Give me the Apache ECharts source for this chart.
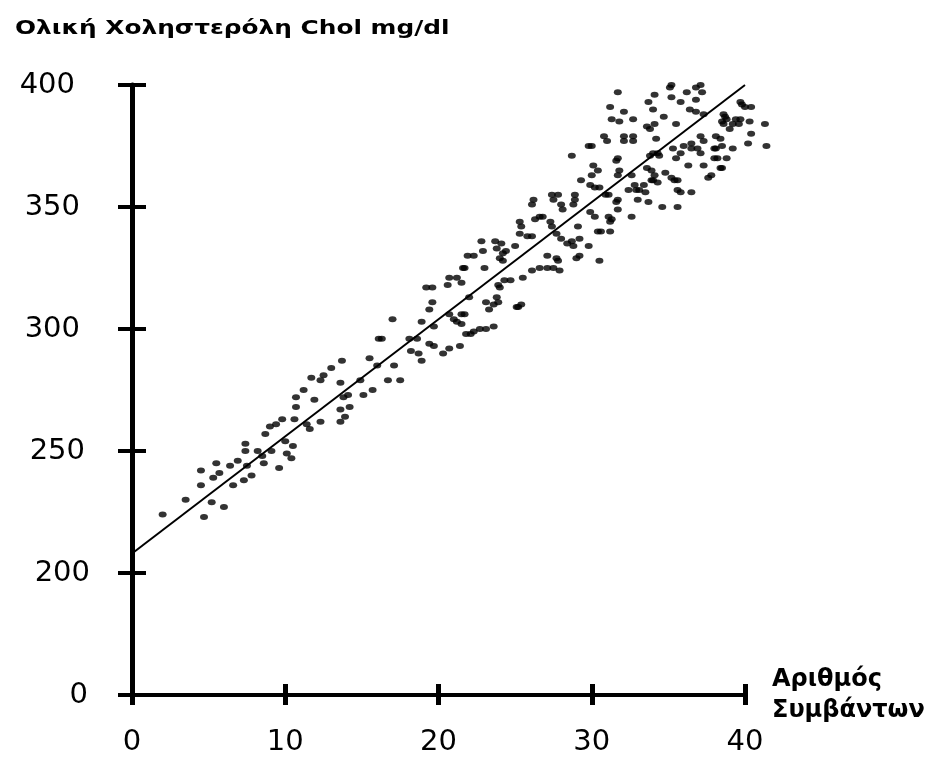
<!DOCTYPE html>
<html>
<head>
<meta charset="utf-8">
<script src="https://cdn.jsdelivr.net/npm/echarts@6/dist/echarts.min.js"></script>
<style>
  html, body { margin: 0; padding: 0; background: #fff; }
  #chart { width: 936px; height: 757px; }
</style>
</head>
<body>
<div id="chart"></div>
<script>
// Number of events (x) and total cholesterol in mg/dl (y), one entry per patient
const eventCount = [
  2.0, 3.5, 4.7, 4.5, 4.5, 5.2, 6.0, 5.3, 5.5, 5.7, 6.4, 6.9, 6.6, 7.3, 7.8, 7.5, 7.4, 7.4, 8.2, 8.5,
  8.6, 9.1, 9.6, 10.0, 10.1, 10.4, 10.5, 8.7, 9.0, 9.4, 9.8, 10.6, 10.7, 10.7, 11.2, 11.7, 12.3, 12.5, 11.9, 11.4,
  11.6, 12.3, 13.0, 13.7, 13.6, 13.8, 13.6, 13.6, 14.2, 13.9, 14.9, 15.1, 15.7, 15.5, 16.0, 16.1, 14.1,
  16.3, 17.0, 17.1, 16.7, 17.5, 18.1, 18.2, 18.7, 18.9, 18.6, 18.9, 19.4, 19.6, 19.2, 19.6, 19.7, 19.4, 19.7, 20.3, 20.7,
  21.4, 20.6, 20.7, 21.2, 21.5, 20.7, 21.0, 21.2, 21.5, 21.7, 21.6, 21.7, 21.9, 22.3, 22.0, 21.8, 22.1, 21.5, 22.8, 22.9,
  23.1, 23.3, 23.6, 23.8, 23.9, 23.0, 23.7, 23.8, 24.1, 24.2, 24.4, 24.0, 24.2, 24.0, 24.3, 24.7, 23.9, 25.0, 25.3, 25.4,
  25.2, 25.5, 25.3, 25.8, 26.1, 26.1, 26.6, 27.1, 27.5, 26.3, 26.6, 26.8, 27.3, 27.4, 26.1, 26.2, 27.1, 27.7, 27.8, 27.9,
  27.5, 28.0, 28.1, 28.8, 28.9, 27.7, 28.0, 28.4, 28.7, 28.8, 29.1, 29.2, 29.0, 29.8, 29.9, 30.2, 30.5, 30.4, 30.6, 31.1,
  31.2, 31.3, 22.3, 22.7, 23.1, 23.6, 25.1, 25.4, 27.4, 27.8,
  28.9, 28.7, 29.2, 29.3, 30.0, 30.1, 30.4, 29.8, 30.0, 29.9, 30.2, 30.5, 30.8, 31.0, 30.9, 31.1, 31.2, 31.7, 31.7, 31.6,
  31.8, 31.7, 31.2, 31.3, 31.8, 32.1, 32.1, 32.7, 32.7, 32.6, 32.8, 33.0, 32.4, 32.9, 32.6, 31.7, 31.6, 31.7, 32.7, 33.7,
  34.0, 33.6, 33.8, 34.1, 34.1, 34.2, 33.8, 34.0, 34.3, 34.4, 33.6, 33.9, 34.1, 33.1, 33.4, 33.5, 33.9, 34.0, 34.3, 33.7,
  34.6, 35.2, 35.1, 35.2, 34.7, 35.5, 35.8, 35.8, 35.5, 35.3, 36.0, 34.8, 35.2, 35.4, 35.6, 35.6, 35.8, 36.5, 35.6, 36.2,
  36.8, 36.8, 37.1, 37.2, 36.4, 36.8, 36.5, 36.5, 37.1, 37.3, 36.9, 37.1, 36.3, 37.3, 37.6, 37.8, 37.3, 38.0, 38.2, 38.0,
  38.1, 38.5, 38.1, 38.4, 38.6, 38.7, 38.8, 38.5, 38.6, 39.0, 38.8, 39.2, 39.4, 39.7, 39.6, 39.2, 39.7, 39.8, 40.0, 40.4,
  40.3, 40.4, 40.2, 41.3, 41.4, 38.4, 38.5, 32.1
];
const cholesterol = [
  224, 230, 223, 236, 242, 229, 227, 239, 245, 241, 244, 246, 236, 238, 240, 244, 253, 250, 250, 248,
  245, 250, 243, 254, 249, 247, 252, 257, 260, 261, 263, 263, 268, 272, 275, 280, 279, 281, 271, 261,
  259, 262, 284, 287, 278, 272, 267, 262, 268, 264, 279, 273, 275, 288, 285, 296, 273,
  296, 304, 285, 279, 279, 296, 291, 290, 287, 296, 303, 308, 311, 317, 317, 301, 294, 293, 290, 292,
  293, 318, 321, 321, 319, 306, 304, 303, 306, 306, 325, 325, 330, 330, 313, 298, 298, 302, 336, 332,
  311, 308, 310, 313, 311, 325, 336, 333, 335, 331, 332, 329, 328, 317, 320, 320, 318, 334, 344, 342,
  309, 321, 339, 338, 338, 324, 325, 325, 325, 345, 346, 346, 344, 342, 351, 353, 330, 329, 328, 324,
  353, 351, 349, 351, 353, 339, 337, 335, 336, 334, 342, 330, 329, 334, 348, 346, 328, 340, 340, 346,
  344, 345, 299, 300, 300, 301, 309, 310, 355, 355,
  355, 371, 337, 361, 363, 367, 365, 375, 375, 359, 358, 358, 379, 377, 355, 355, 340, 397, 370, 369,
  365, 363, 391, 386, 385, 379, 377, 379, 377, 363, 359, 353, 357, 357, 346, 353, 352, 349, 386, 393,
  390, 383, 382, 384, 396, 378, 371, 372, 372, 371, 366, 365, 363, 357, 359, 356, 361, 361, 360, 352,
  350, 400, 399, 395, 387, 384, 393, 372, 370, 374, 375, 364, 362, 361, 361, 357, 356, 356, 350, 397,
  394, 399, 400, 397, 390, 389, 376, 374, 379, 377, 374, 372, 367, 388, 362, 363, 367, 370, 370, 374,
  374, 375, 379, 378, 388, 387, 386, 385, 384, 382, 370, 374, 386, 386, 384, 384, 393, 392, 391, 391,
  385, 380, 376, 384, 375, 366, 366, 389
];

// Fitted regression line, end points
const fitX = [0, 40];
const fitY = [208, 400];

// Axis ticks; the value scale starts at 150 so the empty stretch down to zero
// is drawn compressed, and its lowest tick carries the label 0
const xTicks = [0, 10, 20, 30, 40];
const yTickValues = [150, 200, 250, 300, 350, 400];
const yTickLabels = ['0', '200', '250', '300', '350', '400'];

const points = eventCount.map((x, i) => [x, cholesterol[i]]);
const fitLine = fitX.map((x, i) => [x, fitY[i]]);

const labelFont = { fontFamily: 'DejaVu Sans', fontSize: 29, color: '#000' };

// the hand-set y labels sit slightly staggered; each gets its own right inset
const yLabelRich = {
  l0:   { fontFamily: 'DejaVu Sans', fontSize: 29, color: '#000', padding: [0, 2, 0, 0] },
  l200: { fontFamily: 'DejaVu Sans', fontSize: 29, color: '#000', padding: [0, 0, 0, 0] },
  l250: { fontFamily: 'DejaVu Sans', fontSize: 29, color: '#000', padding: [0, 5, 0, 0] },
  l300: { fontFamily: 'DejaVu Sans', fontSize: 29, color: '#000', padding: [0, 10, 0, 0] },
  l350: { fontFamily: 'DejaVu Sans', fontSize: 29, color: '#000', padding: [0, 10, 0, 0] },
  l400: { fontFamily: 'DejaVu Sans', fontSize: 29, color: '#000', padding: [0, 15, 0, 0] }
};

const chart = echarts.init(document.getElementById('chart'), null, { renderer: 'canvas' });

const xBase = {
  type: 'value', position: 'bottom', min: xTicks[0], max: xTicks[xTicks.length - 1], interval: 10,
  splitLine: { show: false }
};
const yBase = {
  type: 'value', position: 'left', min: yTickValues[0], max: yTickValues[yTickValues.length - 1], interval: 50,
  splitLine: { show: false }
};

chart.setOption({
  animation: false,
  backgroundColor: '#fff',
  graphic: [
    {
      type: 'text',
      left: 15, top: 19,
      scaleX: 1.24,
      originX: 0, originY: 0,
      style: {
        text: 'Ολική Χοληστερόλη Chol mg/dl',
        font: 'bold 20px "DejaVu Sans"',
        fill: '#000'
      }
    }
  ],
  grid: { left: 132, right: 191, top: 85, bottom: 58, containLabel: false },
  xAxis: [
    Object.assign({}, xBase, {
      axisLine: { show: true, onZero: false, lineStyle: { color: '#000', width: 4 } },
      axisTick: { show: true, inside: false, length: 10, lineStyle: { color: '#000', width: 5 } },
      axisLabel: Object.assign({ margin: 33 }, labelFont),
      name: 'Αριθμός\nΣυμβάντων',
      nameLocation: 'end',
      nameGap: 27,
      nameTextStyle: {
        fontFamily: 'DejaVu Sans', fontWeight: 'bold', fontSize: 24, lineHeight: 31,
        color: '#000', align: 'left', verticalAlign: 'middle', padding: [0, 0, 16, 0]
      }
    }),
    Object.assign({}, xBase, {
      axisLine: { show: false, onZero: false },
      axisTick: { show: true, inside: true, length: 11, lineStyle: { color: '#000', width: 5 } },
      axisLabel: { show: false }
    })
  ],
  yAxis: [
    Object.assign({}, yBase, {
      axisLine: { show: true, onZero: false, lineStyle: { color: '#000', width: 5 } },
      axisTick: { show: true, inside: false, length: 14, lineStyle: { color: '#000', width: 4 } },
      axisLabel: {
        margin: 42,
        formatter: v => {
          const label = yTickLabels[yTickValues.indexOf(v)];
          return '{l' + label + '|' + label + '}';
        },
        rich: yLabelRich
      }
    }),
    Object.assign({}, yBase, {
      axisLine: { show: false, onZero: false },
      axisTick: { show: true, inside: true, length: 14, lineStyle: { color: '#000', width: 4 } },
      axisLabel: { show: false }
    })
  ],
  series: [
    {
      type: 'line',
      data: fitLine,
      xAxisIndex: 0, yAxisIndex: 0,
      showSymbol: false, symbol: 'none',
      lineStyle: { color: '#000', width: 2 },
      z: 3
    },
    {
      type: 'scatter',
      data: points,
      xAxisIndex: 0, yAxisIndex: 0,
      symbol: 'circle',
      symbolSize: [8, 6],
      clip: false,
      itemStyle: { color: '#000' },
      z: 4
    }
  ]
});
</script>
</body>
</html>
